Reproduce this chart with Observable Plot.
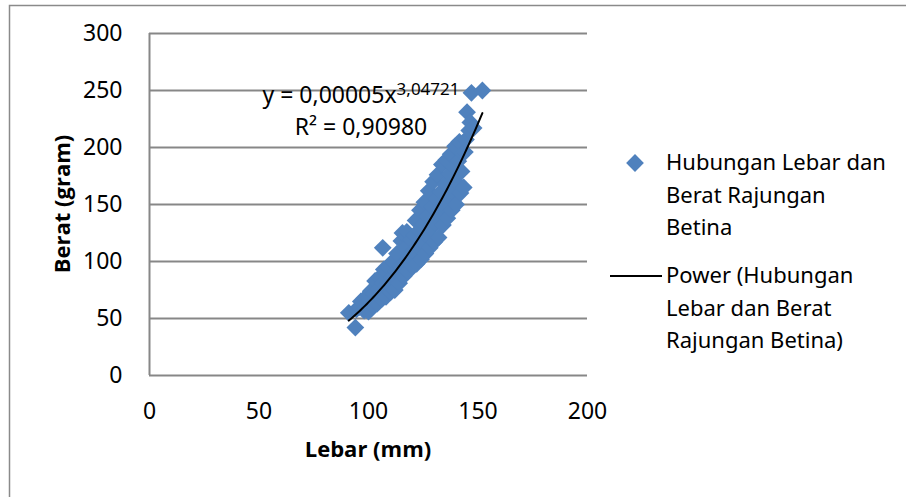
<!DOCTYPE html>
<html>
<head>
<meta charset="utf-8">
<script src="https://cdn.jsdelivr.net/npm/d3@7"></script>
<script src="https://cdn.jsdelivr.net/npm/@observablehq/plot@0.6"></script>
<style>
  html, body { margin: 0; padding: 0; background: #fff; overflow: hidden; }
  #chart { width: 906px; height: 497px; }
</style>
</head>
<body>
<div id="chart"></div>
<script>
// ---- data ----
const lebar = [
  91, 94, 94.5, 96, 96.5, 98, 98.5, 100, 100.5, 101,
  102, 102.5, 103, 104, 104.5, 105, 106, 106.5, 107, 106.5,
  108, 108.5, 109, 110, 110.5, 111, 112, 112.5, 113, 114,
  114.5, 115, 115.5, 116, 116.5, 117, 117.5, 118, 118.5, 119.5,
  120, 120.5, 121, 121.5, 122, 122.5, 123, 123.5, 124, 124.5,
  125, 125.5, 126, 126.5, 127, 127.5, 128, 128.5, 129, 129.5,
  130, 130.5, 131, 131.5, 132, 132.5, 133, 133.5, 134, 134.5,
  135, 135.5, 136, 136.5, 137, 137.5, 138, 138.5, 139, 139.5,
  140, 140.5, 141, 141.5, 142, 142.5, 143, 143.5, 144, 144.5,
  145, 146, 146.5, 147, 148, 152];
const berat = [
  55, 42, 58, 60, 65, 57, 68, 56, 66, 74,
  61, 72, 83, 63, 76, 86, 67, 81, 93, 112,
  69, 80, 95, 73, 86, 100, 75, 91, 107, 81,
  96, 118, 125, 87, 99, 112, 126, 91, 105, 119,
  96, 109, 123, 136, 98, 113, 127, 145, 102, 117,
  133, 152, 107, 123, 140, 162, 112, 129, 148, 170,
  117, 134, 155, 176, 121, 141, 161, 185, 132, 149,
  168, 189, 138, 157, 177, 194, 145, 161, 183, 201,
  150, 169, 188, 205, 160, 179, 195, 165, 196, 207,
  231, 215, 222, 248, 217, 250];
const xTicks = [0, 50, 100, 150, 200];
const yTicks = [0, 50, 100, 150, 200, 250, 300];
// power trendline y = a·x^b (label shows a rounded to 5 decimals)
const trendCoef = 0.0000517;
const trendExp = 3.04721;
const eqLine1 = "y = 0,00005x";
const eqSup = "3,04721";
const eqLine2 = "R² = 0,90980";
const xLabel = "Lebar (mm)";
const yLabel = "Berat (gram)";
const legendSeries = ["Hubungan Lebar dan", "Berat Rajungan", "Betina"];
const legendTrend = ["Power (Hubungan", "Lebar dan Berat", "Rajungan Betina)"];

const points = lebar.map((x, i) => ({x, y: berat[i]}));
const [xmin, xmax] = d3.extent(lebar);
const trend = d3.range(0, 61).map(i => {
  const x = xmin + (xmax - xmin) * i / 60;
  return {x, y: trendCoef * Math.pow(x, trendExp)};
});

const blue = "#4F81BD";
const gridColor = "#878787";
const font = "'Noto Sans', 'Open Sans', sans-serif";

const plot = Plot.plot({
  width: 906,
  height: 497,
  marginLeft: 149,
  marginRight: 319,
  marginTop: 33,
  marginBottom: 122,
  style: {fontFamily: font, fontSize: "23px", color: "#000", background: "transparent", overflow: "visible"},
  x: {domain: [0, 200], ticks: xTicks, tickSize: 0, tickPadding: 27, label: null, tickFormat: d => String(d)},
  y: {domain: [0, 300], ticks: yTicks, tickSize: 0, tickPadding: 27, label: null, tickFormat: d => String(d)},
  marks: [
    Plot.gridY(yTicks, {stroke: gridColor, strokeOpacity: 1, strokeWidth: 2}),
    Plot.ruleX([0], {stroke: gridColor, strokeWidth: 2}),
    Plot.dot(points, {x: "x", y: "y", symbol: "diamond2", r: 8, fill: blue, stroke: null}),
    Plot.line(trend, {x: "x", y: "y", stroke: "#000", strokeWidth: 2, curve: "linear"})
  ]
});

const svg = d3.select(plot);
// chart border
svg.insert("rect", ":first-child")
  .attr("x", 9.5).attr("y", 5.5).attr("width", 920).attr("height", 520)
  .attr("fill", "#fff").attr("stroke", "#8a8a8a").attr("stroke-width", 1.5);

// axis titles
svg.append("text")
  .attr("x", 368).attr("y", 457)
  .attr("text-anchor", "middle")
  .attr("font-family", "'Open Sans', sans-serif")
  .attr("font-weight", "bold").attr("font-size", 22)
  .attr("fill", "#000")
  .text(xLabel);
svg.append("text")
  .attr("transform", "translate(70,204) rotate(-90)")
  .attr("text-anchor", "middle")
  .attr("font-family", "'Open Sans', sans-serif")
  .attr("font-weight", "bold").attr("font-size", 22)
  .attr("fill", "#000")
  .text(yLabel);

// trendline equation
const eq = svg.append("text")
  .attr("x", 361).attr("y", 103)
  .attr("text-anchor", "middle")
  .attr("font-family", font).attr("font-size", 23).attr("fill", "#000");
eq.append("tspan").text(eqLine1);
eq.append("tspan").attr("dy", -8).attr("font-size", 17).text(eqSup);
svg.append("text")
  .attr("x", 361).attr("y", 135)
  .attr("text-anchor", "middle")
  .attr("font-family", font).attr("font-size", 23).attr("fill", "#000")
  .text(eqLine2);

// legend
const lg = svg.append("g")
  .attr("font-family", font).attr("font-size", 22).attr("fill", "#000")
  .attr("text-anchor", "start");
lg.append("path")
  .attr("transform", "translate(635,163)")
  .attr("d", d3.symbol(d3.symbolDiamond2, 8 * 8 * Math.PI)())
  .attr("fill", blue);
legendSeries.forEach((t, i) => {
  lg.append("text").attr("x", 666).attr("y", 170 + i * 32.5).attr("text-anchor", "start").text(t);
});
lg.append("line")
  .attr("x1", 610).attr("x2", 662).attr("y1", 276).attr("y2", 276)
  .attr("stroke", "#000").attr("stroke-width", 2);
legendTrend.forEach((t, i) => {
  lg.append("text").attr("x", 666).attr("y", 283 + i * 32.5).attr("text-anchor", "start").text(t);
});

document.getElementById("chart").appendChild(plot);
</script>
</body>
</html>
